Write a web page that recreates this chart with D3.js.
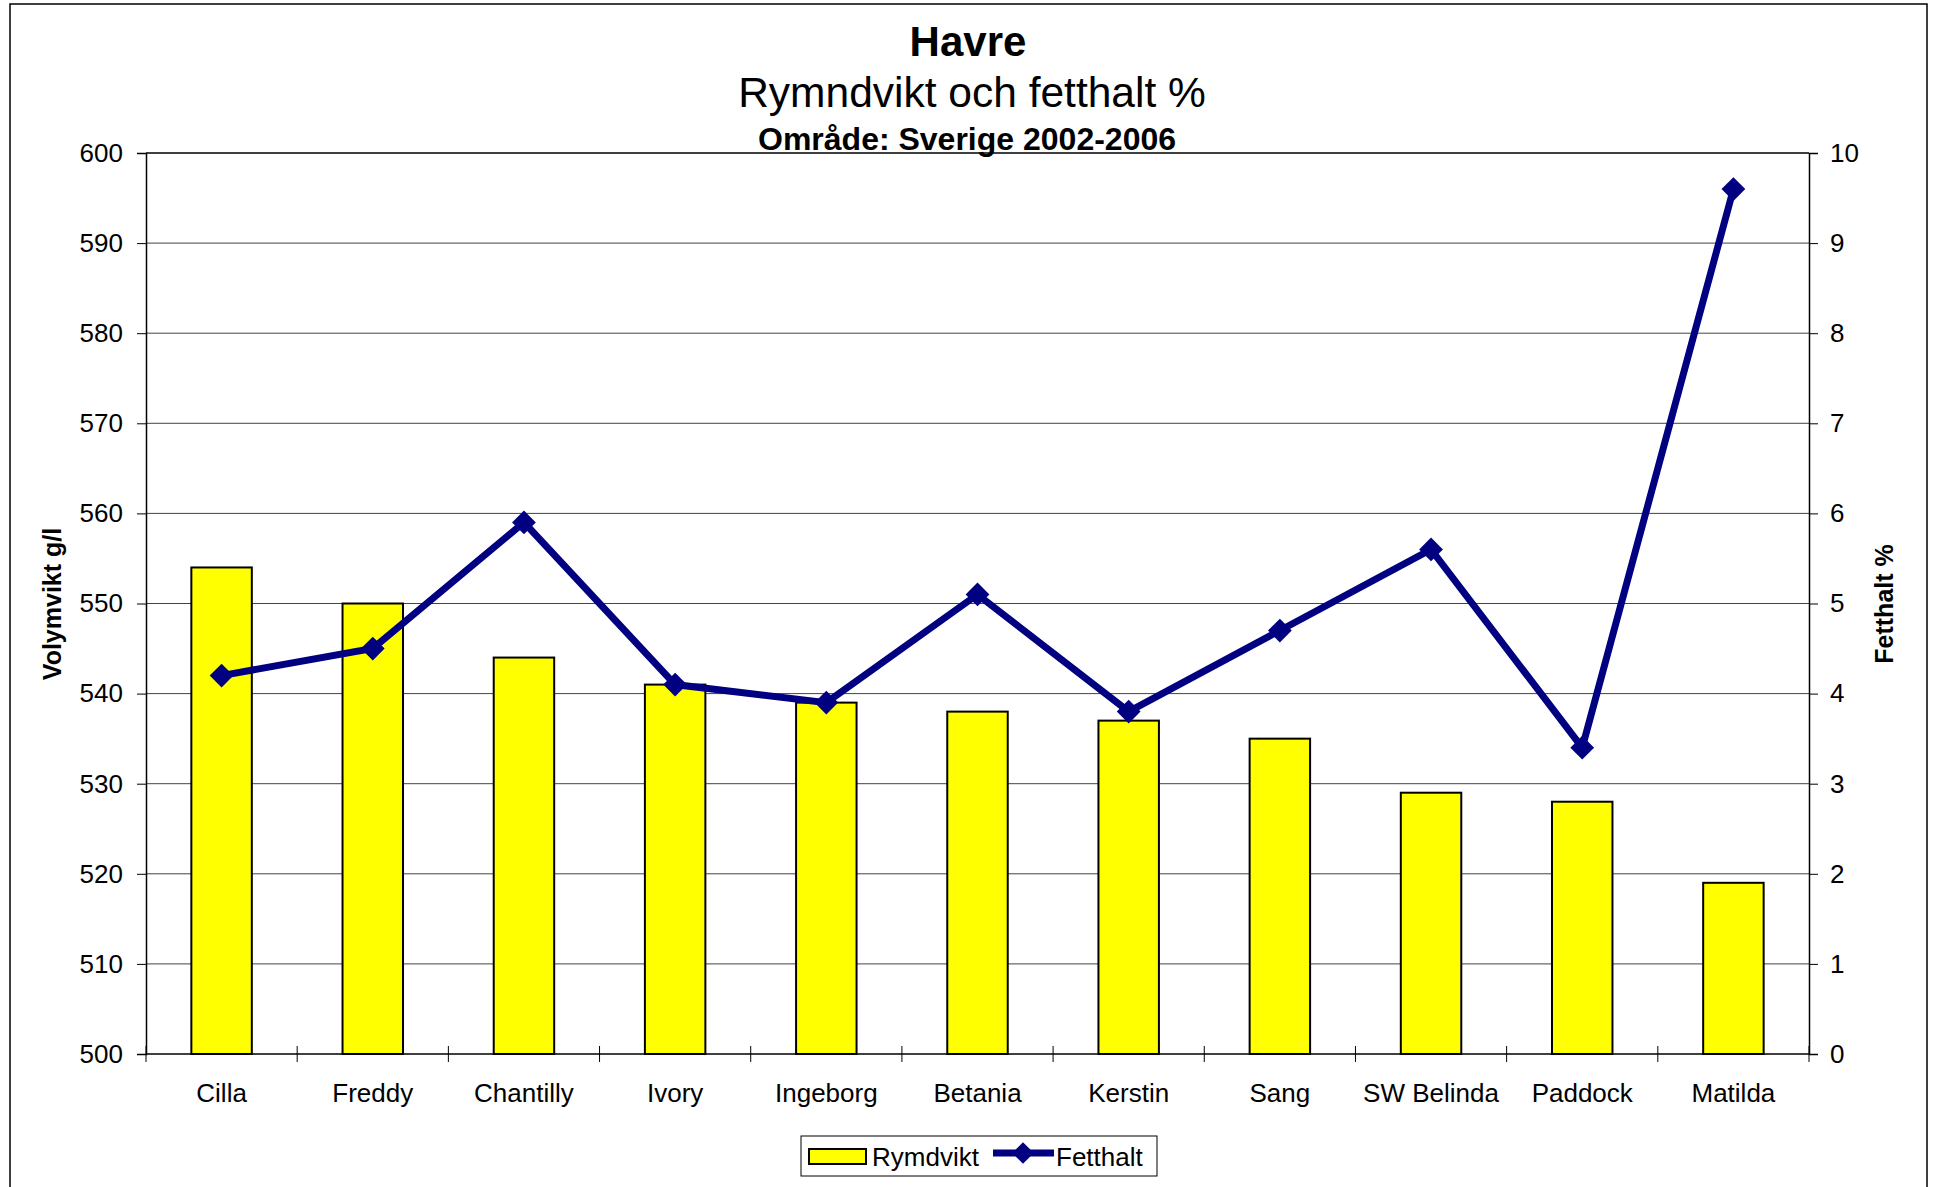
<!DOCTYPE html>
<html>
<head>
<meta charset="utf-8">
<script src="https://cdn.jsdelivr.net/npm/d3@7"></script>
<style>
  body { margin: 0; background: #fff; }
  svg text { font-family: "Liberation Sans", Arial, sans-serif; fill: #000; }
</style>
</head>
<body>
<div id="chart"></div>
<script>
// categories and values
const sorter = ["Cilla", "Freddy", "Chantilly", "Ivory", "Ingeborg", "Betania", "Kerstin", "Sang", "SW Belinda", "Paddock", "Matilda"];
const rymdvikt = [554, 550, 544, 541, 539, 538, 537, 535, 529, 528, 519];
const fetthalt = [4.2, 4.5, 5.9, 4.1, 3.9, 5.1, 3.8, 4.7, 5.6, 3.4, 9.6];
const leftTicks = [500, 510, 520, 530, 540, 550, 560, 570, 580, 590, 600];
const rightTicks = [0, 1, 2, 3, 4, 5, 6, 7, 8, 9, 10];

const width = 1934, height = 1187;
const plot = { left: 146, right: 1809, top: 153, bottom: 1054 };

const svg = d3.select('#chart').append('svg')
    .attr('width', width)
    .attr('height', height);

svg.append('rect')
    .attr('x', 10).attr('y', 4)
    .attr('width', 1917).attr('height', height + 10)
    .attr('fill', '#fff')
    .attr('stroke', '#000')
    .attr('stroke-width', 1.5);

const xb = d3.scaleBand()
    .domain(sorter)
    .range([plot.left, plot.right]);

const yL = d3.scaleLinear().domain([500, 600]).range([plot.bottom, plot.top]);
const yR = d3.scaleLinear().domain([0, 10]).range([plot.bottom, plot.top]);

// gridlines
svg.append('g')
    .selectAll('line')
    .data(leftTicks.slice(1))
    .enter()
    .append('line')
    .attr('x1', plot.left).attr('x2', plot.right)
    .attr('y1', d => yL(d)).attr('y2', d => yL(d))
    .attr('stroke', d => d == 600 ? '#000' : '#444')
    .attr('stroke-width', d => d == 600 ? 1.5 : 1);

// bars (gap width 150%)
svg.append('g')
    .selectAll('rect')
    .data(sorter)
    .enter()
    .append('rect')
    .attr('x', d => xb(d) + xb.bandwidth() * 0.3)
    .attr('width', xb.bandwidth() * 0.4)
    .attr('y', (d, i) => yL(rymdvikt[i]))
    .attr('height', (d, i) => yL(500) - yL(rymdvikt[i]))
    .attr('fill', '#ffff00')
    .attr('stroke', '#000')
    .attr('stroke-width', 2);

// left axis
const axL = svg.append('g')
    .attr('transform', 'translate(' + plot.left + ',0)')
    .call(d3.axisLeft(yL).tickValues(leftTicks).tickSize(9).tickPadding(14));
axL.select('.domain').attr('stroke', '#000').attr('stroke-width', 1.5);
axL.selectAll('.tick line').attr('stroke', '#000');
axL.selectAll('text').style('font-size', '26px');

// right axis
const axR = svg.append('g')
    .attr('transform', 'translate(' + plot.right + ',0)')
    .call(d3.axisRight(yR).tickValues(rightTicks).tickSize(9).tickPadding(12));
axR.select('.domain').attr('stroke', '#000').attr('stroke-width', 1.5);
axR.selectAll('.tick line').attr('stroke', '#000');
axR.selectAll('text').style('font-size', '26px');

// bottom axis
svg.append('line')
    .attr('x1', plot.left).attr('x2', plot.right)
    .attr('y1', plot.bottom).attr('y2', plot.bottom)
    .attr('stroke', '#000').attr('stroke-width', 1.5);

const edges = sorter.map(d => xb(d)).concat([plot.right]);
svg.append('g')
    .selectAll('line')
    .data(edges)
    .enter()
    .append('line')
    .attr('x1', d => d).attr('x2', d => d)
    .attr('y1', plot.bottom - 8).attr('y2', plot.bottom + 8)
    .attr('stroke', '#000').attr('stroke-width', 1);

svg.append('g')
    .selectAll('text')
    .data(sorter)
    .enter()
    .append('text')
    .attr('x', d => xb(d) + xb.bandwidth() / 2)
    .attr('y', plot.bottom + 48)
    .attr('text-anchor', 'middle')
    .style('font-size', '26px')
    .text(d => d);

// line series
const line = d3.line()
    .x((d, i) => xb(sorter[i]) + xb.bandwidth() / 2)
    .y(d => yR(d));

svg.append('path')
    .attr('d', line(fetthalt))
    .attr('fill', 'none')
    .attr('stroke', '#000080')
    .attr('stroke-width', 7)
    .attr('stroke-linejoin', 'miter');

const diamond = d3.symbol().type(d3.symbolDiamond2).size(360);
svg.append('g')
    .selectAll('path')
    .data(fetthalt)
    .enter()
    .append('path')
    .attr('d', diamond)
    .attr('transform', (d, i) => 'translate(' + (xb(sorter[i]) + xb.bandwidth() / 2) + ',' + yR(d) + ')')
    .attr('fill', '#000080');

// titles
svg.append('text')
    .attr('x', 968).attr('y', 56)
    .attr('text-anchor', 'middle')
    .style('font-size', '42px').style('font-weight', 'bold')
    .text('Havre');
svg.append('text')
    .attr('x', 972).attr('y', 107)
    .attr('text-anchor', 'middle')
    .style('font-size', '42.5px')
    .text('Rymndvikt och fetthalt %');
svg.append('text')
    .attr('x', 967).attr('y', 150)
    .attr('text-anchor', 'middle')
    .style('font-size', '32px').style('font-weight', 'bold')
    .text('Område: Sverige 2002-2006');

svg.append('text')
    .attr('transform', 'translate(61,604) rotate(-90)')
    .attr('text-anchor', 'middle')
    .style('font-size', '25px').style('font-weight', 'bold')
    .text('Volymvikt g/l');
svg.append('text')
    .attr('transform', 'translate(1893,604) rotate(-90)')
    .attr('text-anchor', 'middle')
    .style('font-size', '25px').style('font-weight', 'bold')
    .text('Fetthalt %');

// legend
const lg = svg.append('g');
lg.append('rect')
    .attr('x', 801).attr('y', 1136)
    .attr('width', 356).attr('height', 40)
    .attr('fill', '#fff').attr('stroke', '#000').attr('stroke-width', 1);
lg.append('rect')
    .attr('x', 809).attr('y', 1149)
    .attr('width', 57).attr('height', 15)
    .attr('fill', '#ffff00').attr('stroke', '#000').attr('stroke-width', 2);
lg.append('text')
    .attr('x', 872).attr('y', 1166)
    .style('font-size', '26px')
    .text('Rymdvikt');
lg.append('line')
    .attr('x1', 993).attr('x2', 1054)
    .attr('y1', 1153).attr('y2', 1153)
    .attr('stroke', '#000080').attr('stroke-width', 7);
lg.append('path')
    .attr('d', d3.symbol().type(d3.symbolDiamond2).size(300))
    .attr('transform', 'translate(1023,1153)')
    .attr('fill', '#000080');
lg.append('text')
    .attr('x', 1056).attr('y', 1166)
    .style('font-size', '26px')
    .text('Fetthalt');
</script>
</body>
</html>
